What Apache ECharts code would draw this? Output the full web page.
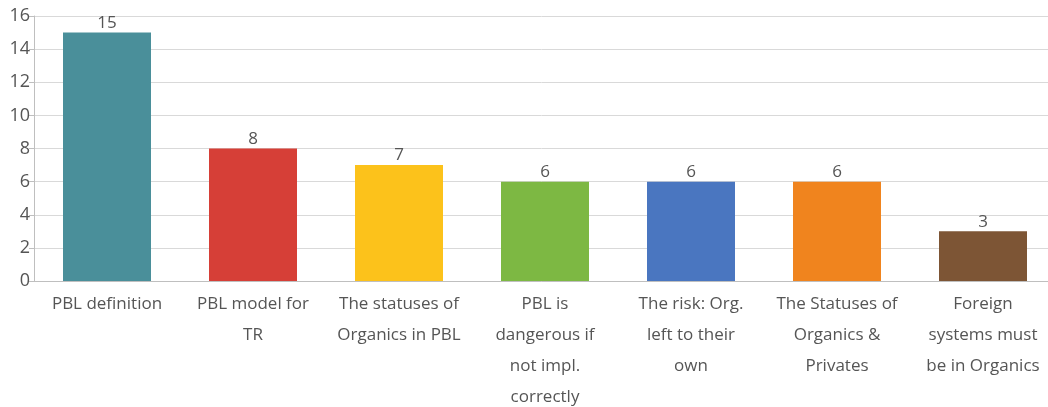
<!DOCTYPE html>
<html>
<head>
<meta charset="utf-8">
<script src="https://cdn.jsdelivr.net/npm/echarts@6/dist/echarts.min.js"></script>
<style>
  html, body { margin: 0; padding: 0; background: #fff; }
  #chart { width: 1048px; height: 407px; }
</style>
</head>
<body>
<div id="chart"></div>
<script>
// categories (already wrapped as in the picture)
var categories = [
  'PBL definition',
  'PBL model for\nTR',
  'The statuses of\nOrganics in PBL',
  'PBL is\ndangerous if\nnot impl.\ncorrectly',
  'The risk: Org.\nleft to their\nown',
  'The Statuses of\nOrganics &\nPrivates',
  'Foreign\nsystems must\nbe in Organics'
];
var counts = [15, 8, 7, 6, 6, 6, 3];
var barColors = ['#4A8F9A', '#D63F37', '#FCC21B', '#7DB843', '#4A76C0', '#F0841E', '#7D5535'];

var textColor = '#555555';
var fontFam = '"Open Sans", "Noto Sans", sans-serif';

var myChart = echarts.init(document.getElementById('chart'));
var option = {
  animation: false,
  grid: {
    left: 34, top: 16, width: 1022, height: 265,
    containLabel: false, outerBoundsMode: 'none'
  },
  xAxis: {
    type: 'category',
    data: categories,
    axisLine: { lineStyle: { color: '#BFBFBF', width: 1 } },
    axisTick: { show: false },
    axisLabel: {
      color: textColor, fontSize: 17, fontFamily: fontFam,
      lineHeight: 31, margin: 8, interval: 0
    }
  },
  yAxis: {
    type: 'value',
    min: 0, max: 16, interval: 2,
    axisLine: { show: true, lineStyle: { color: '#BFBFBF' } },
    axisTick: { show: true, length: 5, lineStyle: { color: '#BFBFBF' } },
    splitLine: { lineStyle: { color: '#D9D9D9' } },
    axisLabel: { color: textColor, fontSize: 18, fontFamily: fontFam, margin: 4 }
  },
  series: [{
    type: 'bar',
    data: counts.map(function (v, i) { return { value: v, itemStyle: { color: barColors[i] } }; }),
    barWidth: 88,
    label: {
      show: true, position: 'top', distance: 1,
      color: textColor, fontSize: 17, fontFamily: fontFam
    }
  }]
};
myChart.setOption(option);
</script>
</body>
</html>
